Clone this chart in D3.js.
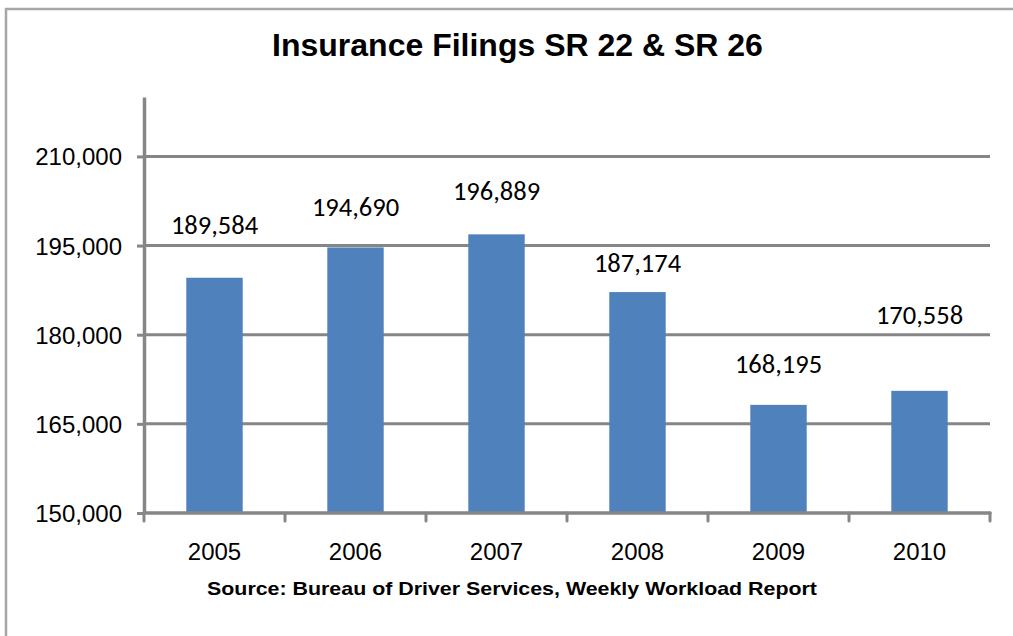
<!DOCTYPE html>
<html>
<head>
<meta charset="utf-8">
<script src="https://cdn.jsdelivr.net/npm/d3@7"></script>
<style>
  html, body { margin: 0; padding: 0; background: #fff; overflow: hidden; }
  svg { display: block; }
</style>
</head>
<body>
<svg id="chart" width="1013" height="636"></svg>
<script>
// ---- Data ----
const title = "Insurance Filings SR 22 & SR 26";
const source = "Source: Bureau of Driver Services, Weekly Workload Report";
const years = ["2005", "2006", "2007", "2008", "2009", "2010"];
const filings = [189584, 194690, 196889, 187174, 168195, 170558];
const yTicks = [150000, 165000, 180000, 195000, 210000];
const yDomain = [150000, 220000];

// ---- Layout ----
const W = 1013, H = 636;
const plot = { left: 144, right: 990, top: 97, bottom: 513 };
const axisColor = "#868686";
const barColor = "#4f81bd";
// manual label lifts above bar tops (labels were hand-placed in the original)
const labelLift = [44, 31, 34, 20, 32, 67];

const svg = d3.select("#chart");

// outer frame (only left and top edges are visible in the crop)
svg.append("path")
  .attr("d", `M6,${H + 5}V9H${W + 5}`)
  .attr("fill", "none")
  .attr("stroke", "#a6a6a6").attr("stroke-width", 2.5);

const x = d3.scaleBand().domain(years).range([plot.left, plot.right]).paddingInner(0).paddingOuter(0);
const y = d3.scaleLinear().domain(yDomain).range([plot.bottom, plot.top]);
const barW = x.bandwidth() / 2.5;

// gridlines
svg.append("g")
  .selectAll("line")
  .data(yTicks.filter(d => d !== yDomain[0]))
  .join("line")
  .attr("x1", plot.left).attr("x2", plot.right)
  .attr("y1", d => y(d)).attr("y2", d => y(d))
  .attr("stroke", axisColor).attr("stroke-width", 3);

// bars
svg.append("g")
  .selectAll("rect")
  .data(filings)
  .join("rect")
  .attr("x", (d, i) => x(years[i]) + (x.bandwidth() - barW) / 2)
  .attr("width", barW)
  .attr("y", d => y(d))
  .attr("height", d => y(yDomain[0]) - y(d))
  .attr("fill", barColor);

// y axis
const yAxis = svg.append("g")
  .attr("transform", `translate(${plot.left},0)`)
  .call(d3.axisLeft(y).tickValues(yTicks).tickFormat(d3.format(",")).tickSize(7).tickSizeOuter(0).tickPadding(15));
yAxis.select(".domain").attr("stroke", axisColor).attr("stroke-width", 3.5);
yAxis.selectAll(".tick line").attr("stroke", axisColor).attr("stroke-width", 3);
yAxis.selectAll(".tick text")
  .attr("fill", "#000")
  .style("font-family", "'Liberation Sans', Arial, sans-serif")
  .style("font-size", "24px")
  .attr("dy", null)
  .attr("dominant-baseline", "central");

// x axis (baseline)
svg.append("line")
  .attr("x1", plot.left).attr("x2", plot.right)
  .attr("y1", y(yDomain[0])).attr("y2", y(yDomain[0]))
  .attr("stroke", axisColor).attr("stroke-width", 3.5).attr("stroke-linecap", "round");

// x ticks at band boundaries
const edges = years.map(d => x(d)).concat([x(years[years.length - 1]) + x.bandwidth()]);
svg.append("g")
  .selectAll("line")
  .data(edges)
  .join("line")
  .attr("x1", d => d).attr("x2", d => d)
  .attr("y1", y(yDomain[0])).attr("y2", y(yDomain[0]) + 8)
  .attr("stroke", axisColor).attr("stroke-width", 3).attr("stroke-linecap", "round");

// x labels
const xAxis = svg.append("g")
  .attr("transform", `translate(0,${y(yDomain[0])})`)
  .call(d3.axisBottom(x).tickSize(0).tickPadding(0));
xAxis.select(".domain").remove();
xAxis.selectAll(".tick text")
  .attr("fill", "#000")
  .attr("y", 47).attr("dy", null)
  .style("font-family", "'Liberation Sans', Arial, sans-serif")
  .style("font-size", "24px");

// data labels
svg.append("g")
  .selectAll("text")
  .data(filings)
  .join("text")
  .attr("x", (d, i) => x(years[i]) + x.bandwidth() / 2)
  .attr("y", (d, i) => y(d) - labelLift[i])
  .attr("text-anchor", "middle")
  .attr("fill", "#000")
  .style("font-family", "Carlito, Calibri, 'Open Sans', sans-serif")
  .style("font-size", "26.5px")
  .text(d => d3.format(",")(d));

// title
svg.append("text")
  .attr("x", 517.5).attr("y", 56)
  .attr("text-anchor", "middle")
  .style("font-family", "'Liberation Sans', Arial, sans-serif")
  .style("font-weight", "bold")
  .style("font-size", "32px")
  .attr("fill", "#000")
  .text(title);

// source
svg.append("text")
  .attr("x", 512).attr("y", 595)
  .attr("text-anchor", "middle")
  .attr("textLength", 610).attr("lengthAdjust", "spacingAndGlyphs")
  .style("font-family", "'Liberation Sans', Arial, sans-serif")
  .style("font-weight", "bold")
  .style("font-size", "19px")
  .attr("fill", "#000")
  .text(source);
</script>
</body>
</html>
